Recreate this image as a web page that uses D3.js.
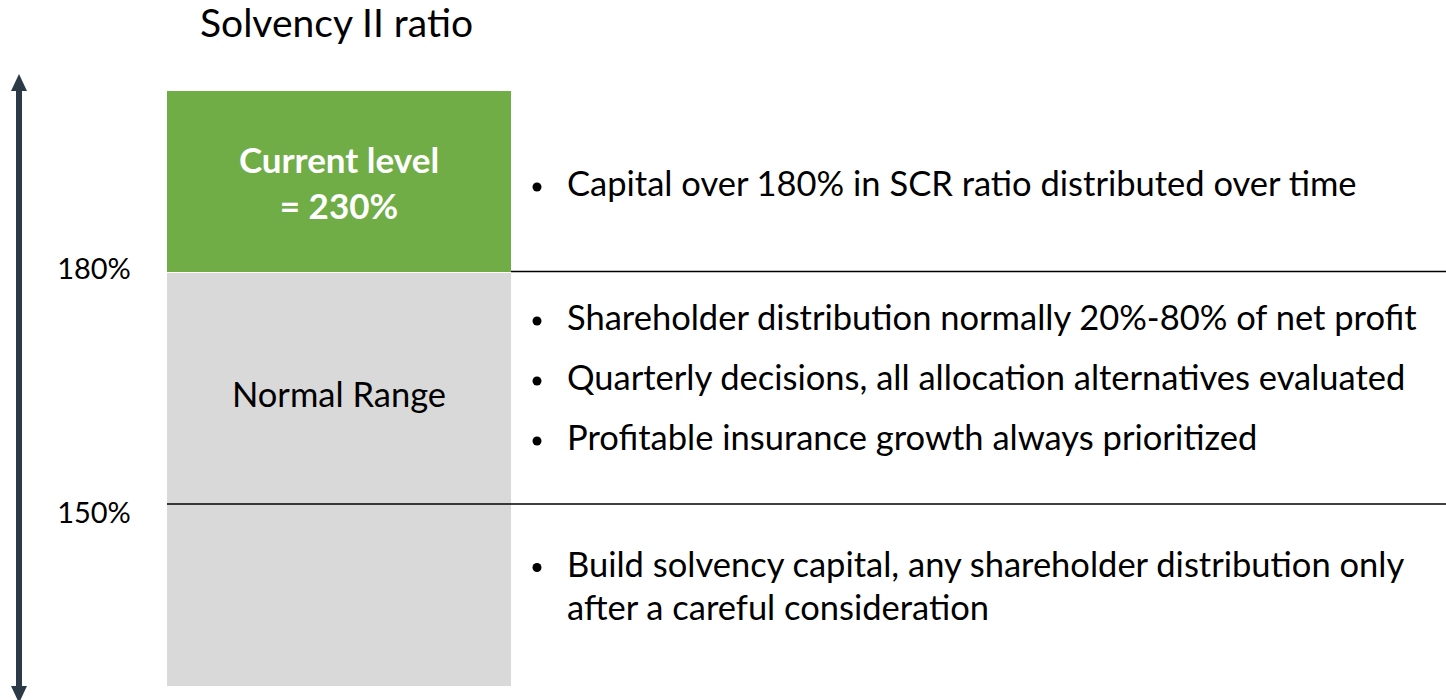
<!DOCTYPE html>
<html>
<head>
<meta charset="utf-8">
<script src="https://cdn.jsdelivr.net/npm/d3@7"></script>
<style>
  html, body { margin: 0; padding: 0; background: #fff; }
  svg { display: block; font-family: Lato, "Open Sans", sans-serif; }
</style>
</head>
<body>
<svg id="chart" width="1446" height="700"></svg>
<script>
// zones from top to bottom: above 180%, normal range, below 150%
var zoneNames = ['above', 'normal', 'below'];
var zoneLabels = [['Current level', '= 230%'], ['Normal Range'], []];
var thresholdLabels = ['180%', '150%'];
var zoneBullets = [
  [['Capital over 180% in SCR ratio distributed over time']],
  [['Shareholder distribution normally 20%-80% of net profit'],
   ['Quarterly decisions, all allocation alternatives evaluated'],
   ['Profitable insurance growth always prioritized']],
  [['Build solvency capital, any shareholder distribution only',
    'after a careful consideration']]
];
var title = 'Solvency II ratio';

var svg = d3.select('#chart');

// zone boundaries (schematic, not proportional)
var y = d3.scaleLinear().domain([0, 1, 2, 3]).range([91, 272, 504, 686]);
var x = d3.scaleOrdinal().domain(['arrow', 'label', 'boxLeft', 'boxRight', 'bullet', 'text', 'end'])
  .range([19, 94, 167, 511, 537, 567, 1446]);

var fill = { above: '#70ad47', normal: '#d9d9d9', below: '#d9d9d9' };
var textMid = [184, 378, 586];   // cap-middle of each bullet block
var bulletGap = 60, lineGap = 43;

// title
svg.append('text')
  .attr('x', 200).attr('y', 23).attr('dy', '0.35em')
  .attr('font-size', 39)
  .attr('fill', '#000')
  .text(title);

// boxes
svg.selectAll('rect.zone')
  .data(zoneNames)
  .enter()
  .append('rect')
  .attr('class', 'zone')
  .attr('x', x('boxLeft'))
  .attr('width', x('boxRight') - x('boxLeft'))
  .attr('y', function(d, i) { return y(i) + (i === 1 ? 1 : 0); })
  .attr('height', function(d, i) { return y(i + 1) - y(i) - (i === 1 ? 1 : 0); })
  .attr('fill', function(d) { return fill[d]; });

// threshold lines
svg.append('line')
  .attr('x1', x('boxRight')).attr('x2', x('end'))
  .attr('y1', y(1) - 0.5).attr('y2', y(1) - 0.5)
  .attr('stroke', '#000').attr('stroke-width', 1.3);
svg.append('line')
  .attr('x1', x('boxLeft')).attr('x2', x('end'))
  .attr('y1', y(2)).attr('y2', y(2))
  .attr('stroke', '#000').attr('stroke-width', 1.3);

// threshold labels
svg.selectAll('text.threshold')
  .data(thresholdLabels)
  .enter()
  .append('text')
  .attr('class', 'threshold')
  .attr('x', x('label'))
  .attr('y', function(d, i) { return y(i + 1) + (i === 0 ? -3 : 9); })
  .attr('dy', '0.35em')
  .attr('text-anchor', 'middle')
  .attr('font-size', 29)
  .text(function(d) { return d; });

// labels inside boxes
zoneLabels.forEach(function(lines, i) {
  var cx = (x('boxLeft') + x('boxRight')) / 2;
  var mid = i === 0 ? 184 : 395;
  var g = svg.append('g').attr('class', 'box-label');
  g.selectAll('text')
    .data(lines)
    .enter()
    .append('text')
    .attr('x', cx)
    .attr('y', function(d, j) { return mid + (j - (lines.length - 1) / 2) * 46; })
    .attr('dy', '0.35em')
    .attr('text-anchor', 'middle')
    .attr('font-size', i === 0 ? 35 : 34.5)
    .attr('font-weight', i === 0 ? 'bold' : 'normal')
    .attr('fill', i === 0 ? '#fff' : '#000')
    .text(function(d) { return d; });
});

// bullets
zoneBullets.forEach(function(bullets, i) {
  var rows = [];
  var offset = 0;
  bullets.forEach(function(lines, b) {
    lines.forEach(function(line, l) {
      rows.push({ text: line, first: l === 0, off: offset });
      offset += (l < lines.length - 1) ? lineGap : 0;
    });
    offset += bulletGap;
  });
  var total = offset - bulletGap;
  var g = svg.append('g').attr('class', 'bullets');
  g.selectAll('text')
    .data(rows)
    .enter()
    .append('text')
    .attr('x', x('text'))
    .attr('y', function(d) { return textMid[i] - total / 2 + d.off; })
    .attr('dy', '0.35em')
    .attr('font-size', 34.5)
    .text(function(d) { return d.text; });
  g.selectAll('circle')
    .data(rows.filter(function(d) { return d.first; }))
    .enter()
    .append('circle')
    .attr('cx', x('bullet'))
    .attr('cy', function(d) { return textMid[i] - total / 2 + d.off + 3; })
    .attr('r', 4.5)
    .attr('fill', '#000');
});

// double-headed arrow on the left
var arrowColor = '#2b3a46';
var ax = x('arrow');
svg.append('line')
  .attr('x1', ax).attr('x2', ax)
  .attr('y1', 88).attr('y2', 688)
  .attr('stroke', arrowColor).attr('stroke-width', 6);
var head = d3.line();
svg.append('path')
  .attr('d', head([[ax, 74], [ax - 8, 91], [ax + 8, 91]]) + 'Z')
  .attr('fill', arrowColor);
svg.append('path')
  .attr('d', head([[ax, 703], [ax - 8, 686], [ax + 8, 686]]) + 'Z')
  .attr('fill', arrowColor);
</script>
</body>
</html>
